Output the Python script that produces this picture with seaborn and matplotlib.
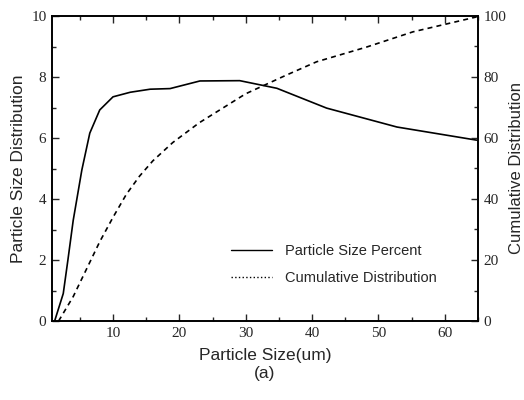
import numpy as np
import pandas as pd
import matplotlib
matplotlib.use('Agg')
import matplotlib.pyplot as plt
from matplotlib.lines import Line2D
from matplotlib.ticker import MultipleLocator
import seaborn as sns

# Particle size percent (left axis)
size_x = [1.2, 2.5, 3.2, 4.0, 5.3, 6.5, 8.0, 10.0, 12.6, 15.6, 18.6, 23.1, 29.1, 34.7, 42.2, 52.8, 64.8]
size_pct = [0.0, 0.9, 2.0, 3.3, 4.95, 6.16, 6.92, 7.35, 7.5, 7.6, 7.62, 7.87, 7.88, 7.63, 6.98, 6.36, 5.93]

# Cumulative distribution (right axis)
cum_x = [1.8, 4.0, 6.0, 8.0, 10.0, 12.0, 14.0, 16.0, 19.0, 23.0, 30.0, 36.0, 40.7, 48.2, 55.2, 64.8]
cum_val = [0.0, 8.0, 17.0, 26.0, 34.0, 41.5, 47.5, 52.5, 58.5, 65.0, 74.5, 80.5, 85.0, 89.8, 94.8, 99.7]

df_size = pd.DataFrame({'x': size_x, 'y': size_pct})
df_cum = pd.DataFrame({'x': cum_x, 'y': cum_val})

sns.set_style('ticks')
serif = ['Liberation Serif', 'DejaVu Serif']
sans = ['Liberation Sans', 'DejaVu Sans']

fig = plt.figure(figsize=(5.24, 4.0), dpi=100)
ax = fig.add_axes([0.0992, 0.1975, 0.8128, 0.7625])
ax2 = ax.twinx()

sns.lineplot(data=df_size, x='x', y='y', ax=ax, color='black', linewidth=1.2)
sns.lineplot(data=df_cum, x='x', y='y', ax=ax2, color='black', linewidth=1.2)
ax2.lines[0].set_dashes([3, 2.5])

ax.set_xlim(0.8, 65)
ax.set_ylim(0, 10)
ax2.set_ylim(0, 100)

ax.xaxis.set_major_locator(MultipleLocator(10))
ax.xaxis.set_minor_locator(MultipleLocator(5))
ax.yaxis.set_major_locator(MultipleLocator(2))
ax.yaxis.set_minor_locator(MultipleLocator(1))
ax2.yaxis.set_major_locator(MultipleLocator(20))
ax2.yaxis.set_minor_locator(MultipleLocator(10))

ax.tick_params(which='both', direction='in', top=True, right=False, labelsize=11, pad=4)
ax.tick_params(which='major', length=5, width=1)
ax.tick_params(which='minor', length=3, width=1)
ax2.tick_params(which='both', direction='in', labelsize=11, pad=4)
ax2.tick_params(which='major', length=5, width=1)
ax2.tick_params(which='minor', length=3, width=1)
for lab in ax.get_xticklabels() + ax.get_yticklabels() + ax2.get_yticklabels():
    lab.set_family(serif)

for a in (ax, ax2):
    for s in a.spines.values():
        s.set_linewidth(1.2)
        s.set_color('black')

ax.set_xlabel('Particle Size(um)\n(a)', fontsize=12.5, family=sans, labelpad=6, linespacing=1.3)
ax.set_ylabel('Particle Size Distribution', fontsize=12.5, family=sans, labelpad=4)
ax2.set_ylabel('Cumulative Distribution', fontsize=12, family=sans, labelpad=2)

handles = [Line2D([], [], color='black', linewidth=1.0, linestyle='-'),
           Line2D([], [], color='black', linewidth=1.0, linestyle=':')]
ax.legend(handles, ['Particle Size Percent', 'Cumulative Distribution'],
          loc='lower right', bbox_to_anchor=(0.917, 0.098), borderaxespad=0, frameon=False,
          prop={'family': sans, 'size': 10.5}, handlelength=2.8, handletextpad=0.9,
          labelspacing=0.9)

fig.savefig('out.png', dpi=100)
